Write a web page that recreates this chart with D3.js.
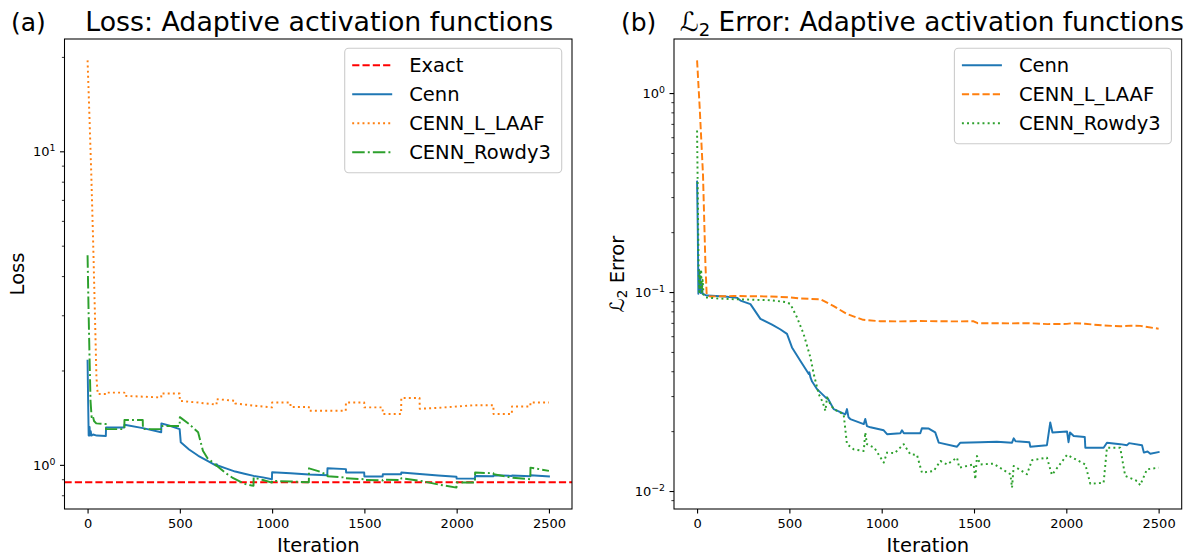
<!DOCTYPE html>
<html><head><meta charset="utf-8">
<script src="https://cdn.jsdelivr.net/npm/d3@7"></script>
<style>
body{margin:0;background:#fff}
svg{display:block}
text{font-family:"DejaVu Sans",sans-serif;fill:#000}
</style>
</head><body>
<svg id="chart" width="1189" height="557"></svg>
<script>
// ---------------- data ----------------
const xTickValues = [0, 500, 1000, 1500, 2000, 2500];
const xDomain = [-125, 2625];

const lossExact = 0.88;
const lossCenn = [[0,2.15],[3,1.6],[6,1.24],[9,1.3],[11,1.32],[13,1.24],[17,1.28],[21,1.24],[30,1.25],[50,1.24],[99,1.236],[100,1.316],[199,1.316],[200,1.342],[300,1.31],[399,1.27],[400,1.356],[450,1.33],[499,1.3],[505,1.18],[550,1.12],[600,1.069],[650,1.03],[699,0.993],[700,1.005],[705,0.995],[750,0.975],[800,0.952],[850,0.937],[900,0.922],[950,0.912],[999,0.9],[1000,0.947],[1100,0.94],[1200,0.932],[1299,0.927],[1300,0.976],[1400,0.969],[1401,0.945],[1499,0.945],[1500,0.918],[1599,0.918],[1600,0.934],[1699,0.934],[1700,0.945],[1800,0.935],[1900,0.925],[1999,0.916],[2000,0.904],[2099,0.904],[2100,0.922],[2199,0.92],[2200,0.927],[2299,0.922],[2300,0.925],[2399,0.92],[2400,0.927],[2500,0.918]];
const lossLAAF = [[0,19.5],[10,13],[20,8.5],[30,5.2],[40,3.0],[48,1.9],[55,1.683],[99,1.683],[100,1.7],[199,1.7],[200,1.66],[300,1.65],[399,1.64],[400,1.69],[499,1.69],[500,1.6],[600,1.58],[699,1.556],[700,1.62],[799,1.6],[800,1.57],[900,1.545],[999,1.525],[1000,1.58],[1099,1.58],[1100,1.53],[1199,1.53],[1200,1.488],[1399,1.488],[1400,1.58],[1499,1.58],[1500,1.525],[1599,1.525],[1600,1.453],[1699,1.453],[1700,1.634],[1799,1.634],[1800,1.51],[1900,1.52],[2000,1.535],[2100,1.55],[2199,1.55],[2200,1.453],[2299,1.453],[2300,1.536],[2399,1.536],[2400,1.582],[2500,1.582]];
const lossRowdy3 = [[0,4.66],[5,3.2],[10,2.3],[16,1.6],[22,1.42],[28,1.435],[35,1.38],[47,1.356],[99,1.35],[100,1.3],[199,1.3],[200,1.39],[299,1.39],[300,1.3],[399,1.3],[400,1.33],[499,1.33],[500,1.42],[550,1.35],[599,1.27],[625,1.109],[650,1.05],[690,1.005],[750,0.94],[784,0.911],[850,0.87],[899,0.857],[900,0.911],[950,0.895],[999,0.878],[1000,0.889],[1100,0.885],[1199,0.88],[1200,0.975],[1250,0.955],[1299,0.93],[1300,0.92],[1399,0.911],[1400,0.906],[1499,0.9],[1500,0.895],[1599,0.892],[1600,0.897],[1699,0.895],[1700,0.906],[1800,0.89],[1900,0.866],[1999,0.846],[2000,0.878],[2099,0.878],[2100,0.945],[2199,0.94],[2200,0.934],[2300,0.91],[2399,0.9],[2400,0.98],[2500,0.957]];

const errCenn = [[0,0.359],[4,0.2],[7,0.098],[10,0.13],[13,0.1],[17,0.12],[20,0.099],[25,0.11],[30,0.098],[40,0.097],[54,0.096],[150,0.095],[217,0.0935],[235,0.0906],[289,0.087],[343,0.0733],[406,0.0686],[450,0.065],[487,0.0616],[514,0.0527],[560,0.045],[605,0.0387],[608,0.0395],[615,0.037],[623,0.0355],[650,0.0325],[700,0.0293],[704,0.0295],[710,0.029],[740,0.0258],[803,0.0243],[812,0.0258],[820,0.0235],[830,0.023],[903,0.0217],[911,0.023],[920,0.0212],[939,0.0209],[1011,0.0202],[1029,0.0193],[1101,0.0195],[1110,0.0202],[1120,0.0195],[1209,0.0195],[1218,0.0207],[1255,0.0206],[1290,0.0197],[1309,0.0175],[1408,0.0167],[1426,0.0175],[1534,0.0176],[1624,0.0177],[1706,0.0175],[1715,0.0184],[1725,0.0178],[1800,0.0176],[1805,0.0167],[1895,0.017],[1913,0.0221],[1925,0.0197],[2004,0.0199],[2012,0.0176],[2020,0.0197],[2040,0.0189],[2100,0.0187],[2103,0.0165],[2202,0.0165],[2220,0.0175],[2292,0.0172],[2329,0.017],[2340,0.0174],[2410,0.017],[2420,0.0156],[2440,0.0158],[2455,0.0154],[2500,0.0157]];
const errLAAF = [[0,1.46],[14,0.85],[32,0.39],[45,0.14],[52,0.097],[70,0.095],[200,0.0955],[400,0.095],[505,0.094],[560,0.0928],[668,0.092],[740,0.085],[812,0.0775],[900,0.0725],[992,0.0713],[1100,0.0712],[1200,0.0715],[1400,0.0712],[1498,0.0713],[1520,0.0697],[1700,0.0696],[1800,0.0697],[1900,0.069],[2004,0.0692],[2030,0.0697],[2100,0.0693],[2200,0.0679],[2292,0.0673],[2350,0.0678],[2400,0.0676],[2500,0.0654]];
const errRowdy3 = [[0,0.648],[4,0.3],[8,0.14],[12,0.1],[15,0.125],[18,0.105],[22,0.13],[26,0.1],[30,0.115],[35,0.097],[45,0.094],[100,0.093],[200,0.092],[300,0.0915],[400,0.091],[480,0.089],[505,0.0872],[541,0.0747],[577,0.0616],[614,0.0469],[632,0.0387],[659,0.0307],[680,0.028],[695,0.0253],[704,0.0295],[722,0.0273],[740,0.0258],[794,0.0243],[812,0.0172],[848,0.0162],[903,0.0159],[911,0.0197],[920,0.0172],[960,0.0165],[1011,0.0139],[1029,0.0156],[1070,0.0155],[1119,0.0172],[1155,0.0153],[1191,0.0152],[1218,0.01237],[1282,0.01262],[1318,0.01416],[1354,0.0136],[1408,0.01472],[1420,0.0131],[1498,0.0136],[1507,0.01145],[1516,0.015],[1534,0.0136],[1606,0.01372],[1697,0.01214],[1706,0.0104],[1715,0.01336],[1787,0.01214],[1814,0.01428],[1895,0.01472],[1922,0.01205],[2004,0.0152],[2103,0.0136],[2130,0.01088],[2202,0.011],[2220,0.0165],[2292,0.0165],[2319,0.0119],[2383,0.01123],[2400,0.0107],[2437,0.01286],[2500,0.0131]];

const lossMajorTicks = [1, 10];
const lossMinorTicks = [0.8, 0.9, 2, 3, 4, 5, 6, 7, 8, 9, 20];
const errMajorTicks = [0.01, 0.1, 1];
const errMinorTicks = [0.009, 0.02, 0.03, 0.04, 0.05, 0.06, 0.07, 0.08, 0.09, 0.2, 0.3, 0.4, 0.5, 0.6, 0.7, 0.8, 0.9];

const lossLabels = ["Exact", "Cenn", "CENN_L_LAAF", "CENN_Rowdy3"];
const errLabels = ["Cenn", "CENN_L_LAAF", "CENN_Rowdy3"];

// ---------------- styles ----------------
const C = {blue:"#1f77b4", orange:"#ff7f0e", green:"#2ca02c", red:"#ff0000"};
const LW = 1.95;
const DASH = {solid:null, dashed:"7.2,3.1", dotted:"1.95,3.2", dashdot:"12.5,3.1,1.95,3.1"};

const svg = d3.select("#chart");
const Y0 = 39, Y1 = 509;

function logDomain(seriesList, extra) {
  const vals = seriesList.flatMap(s => s.map(d => d[1])).concat(extra || []);
  const lo = Math.log10(d3.min(vals)), hi = Math.log10(d3.max(vals));
  const m = (hi - lo) * 0.05;
  return [Math.pow(10, lo - m), Math.pow(10, hi + m)];
}

function supLabel(sel, v) {
  const e = Math.round(Math.log10(v));
  sel.text(null);
  sel.append("tspan").text("10");
  sel.append("tspan").attr("dy", "-0.5em").attr("font-size", "9.4px")
     .text(e < 0 ? "\u2212" + (-e) : String(e));
}

function drawPanel(p) {
  const g = svg.append("g");
  const x = d3.scaleLinear().domain(xDomain).range([p.x0, p.x1]);
  const y = d3.scaleLog().domain(p.yDomain).range([Y1, Y0]);

  // lines
  const line = d3.line().x(d => x(d[0])).y(d => y(d[1]));
  const clipId = "clip" + p.id;
  g.append("clipPath").attr("id", clipId).append("rect")
    .attr("x", p.x0).attr("y", Y0).attr("width", p.x1 - p.x0).attr("height", Y1 - Y0);
  const lg = g.append("g").attr("clip-path", `url(#${clipId})`);
  p.series.forEach(s => {
    const data = s.hline != null ? [[xDomain[0], s.hline], [xDomain[1], s.hline]] : s.data;
    lg.append("path").attr("d", line(data))
      .attr("fill", "none").attr("stroke", s.color).attr("stroke-width", LW)
      .attr("stroke-dasharray", DASH[s.style])
      .attr("stroke-linejoin", "round").attr("stroke-linecap", s.style === "solid" ? "square" : "butt");
  });

  // x axis
  const xa = g.append("g").attr("transform", `translate(0,${Y1})`)
    .call(d3.axisBottom(x).tickValues(xTickValues).tickSize(4.5).tickPadding(5).tickFormat(d3.format("d")));
  xa.select(".domain").remove();
  xa.selectAll("text").attr("font-size", "13px").attr("font-family", '"DejaVu Sans",sans-serif');
  xa.selectAll("line").attr("stroke-width", 1.1);

  // y axis major
  const ya = g.append("g").attr("transform", `translate(${p.x0},0)`)
    .call(d3.axisLeft(y).tickValues(p.major).tickSize(4.5).tickPadding(4.5));
  ya.select(".domain").remove();
  ya.selectAll("text").attr("font-size", "13px").attr("font-family", '"DejaVu Sans",sans-serif')
    .each(function(d) { supLabel(d3.select(this), d); });
  ya.selectAll("line").attr("stroke-width", 1.1);
  // y axis minor
  const ym = g.append("g").attr("transform", `translate(${p.x0},0)`)
    .call(d3.axisLeft(y).tickValues(p.minor).tickSize(2.6).tickFormat(""));
  ym.select(".domain").remove();
  ym.selectAll("line").attr("stroke-width", 0.8);

  // spines
  g.append("rect").attr("x", p.x0).attr("y", Y0).attr("width", p.x1 - p.x0).attr("height", Y1 - Y0)
    .attr("fill", "none").attr("stroke", "#000").attr("stroke-width", 1.05);

  // legend
  const lw = 217, rowH = 29;
  const lx = p.x1 - 10.3 - lw, ly = 48.3;
  const lh = p.series.length * rowH + 8.5;
  const leg = g.append("g");
  leg.append("rect").attr("x", lx).attr("y", ly).attr("width", lw).attr("height", lh)
    .attr("rx", 4).attr("ry", 4).attr("fill", "#fff").attr("fill-opacity", 0.8)
    .attr("stroke", "#cccccc").attr("stroke-width", 1.1);
  p.series.forEach((s, i) => {
    const cy = ly + 17 + i * rowH;
    leg.append("line").attr("x1", lx + 7.5).attr("x2", lx + 47.5).attr("y1", cy).attr("y2", cy)
      .attr("stroke", s.color).attr("stroke-width", LW).attr("stroke-dasharray", DASH[s.style]);
    leg.append("text").attr("x", lx + 64.5).attr("y", cy + 7).attr("font-size", "19.5px").text(s.label);
  });

  // title
  const cx = (p.x0 + p.x1) / 2;
  const t = g.append("text").attr("x", cx + p.titleDx).attr("y", 31).attr("text-anchor", "middle").attr("font-size", p.titleSize);
  p.title(t);
  g.append("text").attr("x", p.tagX).attr("y", 31).attr("font-size", "25px").text(p.tag);

  // x label
  g.append("text").attr("x", cx).attr("y", 552).attr("text-anchor", "middle").attr("font-size", "19.5px").text("Iteration");
  // y label
  const yl = g.append("text").attr("transform", `translate(${p.ylabelX},${(Y0 + Y1) / 2}) rotate(-90)`)
    .attr("text-anchor", "middle").attr("font-size", "19.5px");
  p.ylabel(yl);
}

drawPanel({
  id: "a", x0: 64.5, x1: 572,
  yDomain: logDomain([lossCenn, lossLAAF, lossRowdy3], [lossExact]),
  major: lossMajorTicks, minor: lossMinorTicks,
  series: [
    {label: lossLabels[0], hline: lossExact, color: C.red, style: "dashed"},
    {label: lossLabels[1], data: lossCenn, color: C.blue, style: "solid"},
    {label: lossLabels[2], data: lossLAAF, color: C.orange, style: "dotted"},
    {label: lossLabels[3], data: lossRowdy3, color: C.green, style: "dashdot"}
  ],
  tag: "(a)", tagX: 11, titleSize: "26.8px", titleDx: 1,
  title: t => t.text("Loss: Adaptive activation functions"),
  ylabelX: 23.5,
  ylabel: t => t.text("Loss")
});

drawPanel({
  id: "b", x0: 674, x1: 1181.7,
  yDomain: logDomain([errCenn, errLAAF, errRowdy3]),
  major: errMajorTicks, minor: errMinorTicks,
  series: [
    {label: errLabels[0], data: errCenn, color: C.blue, style: "solid"},
    {label: errLabels[1], data: errLAAF, color: C.orange, style: "dashed"},
    {label: errLabels[2], data: errRowdy3, color: C.green, style: "dotted"}
  ],
  tag: "(b)", tagX: 621, titleSize: "26.3px", titleDx: 4,
  title: t => {
    t.append("tspan").text("\u2112");
    t.append("tspan").attr("dy", "0.25em").attr("font-size", "18px").text("2");
    t.append("tspan").attr("dy", "-0.17em").text(" Error: Adaptive activation functions");
  },
  ylabelX: 624,
  ylabel: t => {
    t.append("tspan").text("\u2112");
    t.append("tspan").attr("dy", "0.25em").attr("font-size", "13.5px").text("2");
    t.append("tspan").attr("dy", "-0.17em").text(" Error");
  }
});
</script>
</body></html>
